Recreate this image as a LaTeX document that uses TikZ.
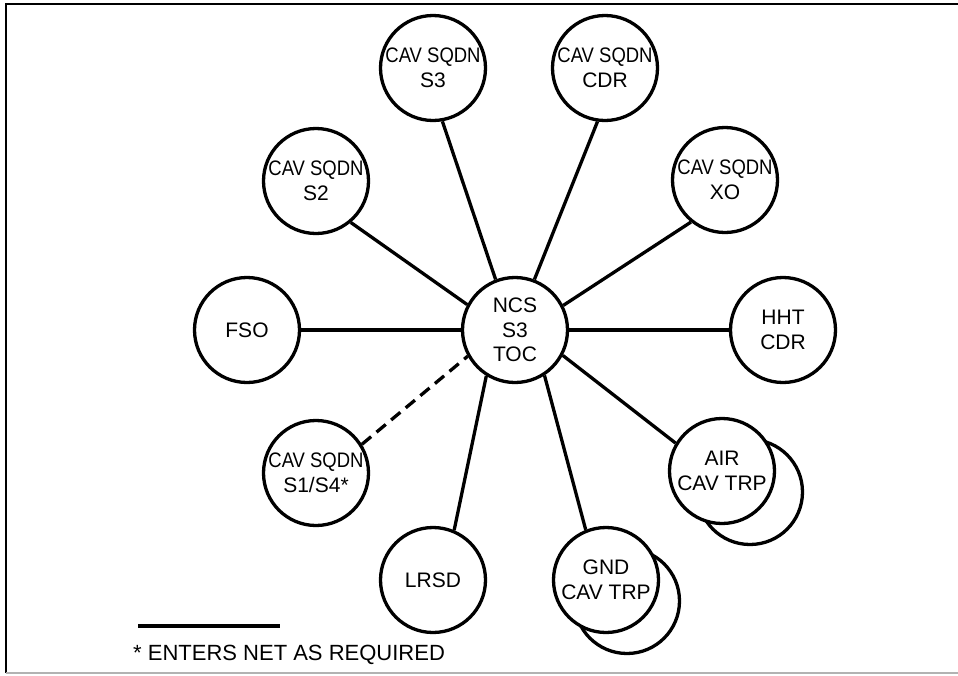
\documentclass[tikz,border=0pt]{standalone}
\usepackage{fontspec}
\setmainfont{Liberation Sans}
\usepackage{tikz}

\newcommand{\sqdn}{\scalebox{0.88}[1]{CAV SQDN}}

\begin{document}
\begin{tikzpicture}[x=1pt,y=-1pt,
	stn/.style={circle,draw,line width=3.3pt,fill=white,minimum size=105pt,inner sep=0pt,align=center,font=\fontsize{21}{24.5}\selectfont},
	link/.style={line width=3.3pt}]
\useasboundingbox (0,0) rectangle (958,675);
%frame
\draw[line width=2.5pt] (6,673) -- (6,4) -- (958,4);
\draw[gray!60,line width=1.5pt] (6,673) -- (958,673);

%net control station in the middle
\node[stn] (ncs) at (515,330) {NCS\\S3\\TOC};

%second circles behind the troops
\node[stn] (airb) at (750,492) {};
\node[stn] (gndb) at (627,601) {};

%put the stations around it
\foreach \nm/\x/\y/\txt in {s3/433/68/{\sqdn\\S3},cdr/605/68/{\sqdn\\CDR},s2/316/181/{\sqdn\\S2},xo/725/180/{\sqdn\\XO},fso/247/330/{FSO},hht/783/330/{HHT\\CDR},s1s4/316/473/{\sqdn\\S1/S4*},lrsd/433/580/{LRSD},air/722/471/{AIR\\CAV TRP},gnd/606/580/{GND\\CAV TRP}}{
	\node[stn] (\nm) at (\x,\y) {\txt};
}

%links to the net control station
\foreach \nm/\a/\b in {s3/280/111,cdr/262/69,xo/231/27,s2/310/152,air/149/332,gnd/112/303,lrsd/67/238}{
	\draw[link] (\nm.\a) -- (ncs.\b);
}
\draw[link] (fso) -- (ncs);
\draw[link] (hht) -- (ncs);
\draw[link,dash pattern=on 12pt off 7pt] (s1s4.32) -- (ncs.209);

%legend
\coordinate (lga) at (138,626);
\coordinate (lgb) at (280,626);
\draw[line width=4pt] (lga) -- (lgb);
\node[anchor=base west,inner sep=0pt,font=\fontsize{22}{26}\selectfont] (note) at (133,660) {* ENTERS NET AS REQUIRED};
\end{tikzpicture}
\end{document}
